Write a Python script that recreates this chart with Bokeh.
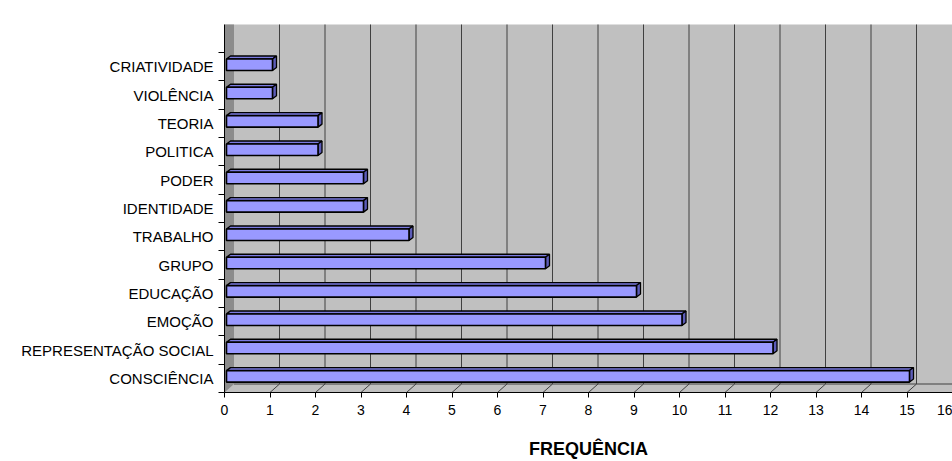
from bokeh.plotting import figure
from bokeh.models import Range1d, FixedTicker
from bokeh.embed import file_html
from bokeh.resources import INLINE

# ---- data (bottom to top) ----
categories = ["CONSCIÊNCIA", "REPRESENTAÇÃO SOCIAL", "EMOÇÃO", "EDUCAÇÃO", "GRUPO",
              "TRABALHO", "IDENTIDADE", "PODER", "POLITICA", "TEORIA", "VIOLÊNCIA",
              "CRIATIVIDADE"]
frequencies = [15, 12, 10, 9, 7, 4, 3, 3, 2, 2, 1, 1]
x_ticks = list(range(0, 17))
x_title = "FREQUÊNCIA"

# ---- layout ----
W, H = 952, 461
BL, BR, BT, BB = 224, 0, 24, 69
frame_w = W - BL - BR
frame_h = H - BT - BB
UNIT_X = frame_w / 16.0   # px per frequency unit
UNIT_Y = 28.33            # px per category
PX = 1.0 / UNIT_X
PY = 1.0 / UNIT_Y
x_end = frame_w / UNIT_X
y0 = -0.5
y_end = y0 + frame_h / UNIT_Y
n = len(categories)

DX = 9.5 * PX          # depth offset of walls
DY = 8.5 * PY

FONT = "Liberation Sans"
WALL = "#C0C0C0"
SIDE_WALL = "#8C8C8C"
GRID = "#404040"
BAR = "#9999FF"
BAR_SIDE = "#5C5CB8"
BAR_TOP = "#7A7AE0"

p = figure(width=W, height=H, output_backend="svg", toolbar_location=None,
           x_range=Range1d(0, x_end), y_range=Range1d(y0, y_end),
           min_border_left=BL, min_border_right=BR, min_border_top=BT,
           min_border_bottom=BB)
p.background_fill_color = WALL
p.border_fill_color = "white"
p.outline_line_color = None
p.xgrid.visible = False
p.ygrid.visible = False

# side (left) wall
p.patch(x=[0, DX, DX, 0], y=[y0, y0 + DY, y_end + 1, y_end + 1],
        fill_color=SIDE_WALL, line_color=None)

# floor back edge
p.segment(x0=[DX], y0=[y0 + DY], x1=[x_end + 1], y1=[y0 + DY],
          line_color=GRID, line_width=1)

# gridlines on back wall and floor
gk = [k for k in x_ticks if k > 0]
p.segment(x0=[k + DX for k in gk], y0=[y0 + DY] * len(gk),
          x1=[k + DX for k in gk], y1=[y_end + 1] * len(gk),
          line_color=GRID, line_width=1)
p.segment(x0=gk, y0=[y0] * len(gk), x1=[k + DX for k in gk],
          y1=[y0 + DY] * len(gk), line_color=GRID, line_width=1)

# 3D bars
bh = 11.5 * PY
sx, sy = 4 * PX, 3 * PY
bx0 = 2 * PX
lefts, rights, bots, tops = [], [], [], []
top_xs, top_ys, side_xs, side_ys = [], [], [], []
for i, v in enumerate(frequencies):
    yc = i + 2 * PY
    b, t = yc - bh / 2, yc + bh / 2
    x1 = v + 2.5 * PX
    lefts.append(bx0); rights.append(x1); bots.append(b); tops.append(t)
    top_xs.append([bx0, bx0 + sx, x1 + sx, x1])
    top_ys.append([t, t + sy, t + sy, t])
    side_xs.append([x1, x1 + sx, x1 + sx, x1])
    side_ys.append([b, b + sy, t + sy, t])

p.patches(xs=top_xs, ys=top_ys, fill_color=BAR_TOP, line_color="black", line_width=1.4)
p.patches(xs=side_xs, ys=side_ys, fill_color=BAR_SIDE, line_color="black", line_width=1.3)
p.quad(left=lefts, right=rights, bottom=bots, top=tops,
       fill_color=BAR, line_color="black", line_width=1.6)

# x axis
xa = p.xaxis[0]
xa.ticker = FixedTicker(ticks=x_ticks)
xa.axis_line_color = "black"
xa.axis_line_width = 1
xa.major_tick_out = 5
xa.major_tick_in = 0
xa.major_tick_line_color = "black"
xa.minor_tick_line_color = None
xa.major_label_text_font = FONT
xa.major_label_text_font_size = "14px"
xa.major_label_text_color = "black"
xa.major_label_standoff = 7
xa.axis_label = x_title
xa.axis_label_text_font = FONT
xa.axis_label_text_font_size = "18px"
xa.axis_label_text_font_style = "bold"
xa.axis_label_text_color = "black"
xa.axis_label_standoff = 21

# y axis (labels at centres, ticks at category boundaries)
ya = p.yaxis[0]
ya.ticker = FixedTicker(ticks=list(range(n)), minor_ticks=[i - 0.5 for i in range(n + 1)])
ya.major_label_overrides = {i: c for i, c in enumerate(categories)}
ya.major_tick_line_color = None
ya.major_tick_out = 6
ya.major_tick_in = 0
ya.minor_tick_line_color = "black"
ya.minor_tick_out = 6
ya.minor_tick_in = 0
ya.axis_line_color = "black"
ya.major_label_text_font = FONT
ya.major_label_text_font_size = "15px"
ya.major_label_text_color = "black"
ya.major_label_standoff = 5

open("out.html", "w").write(file_html(p, INLINE))
